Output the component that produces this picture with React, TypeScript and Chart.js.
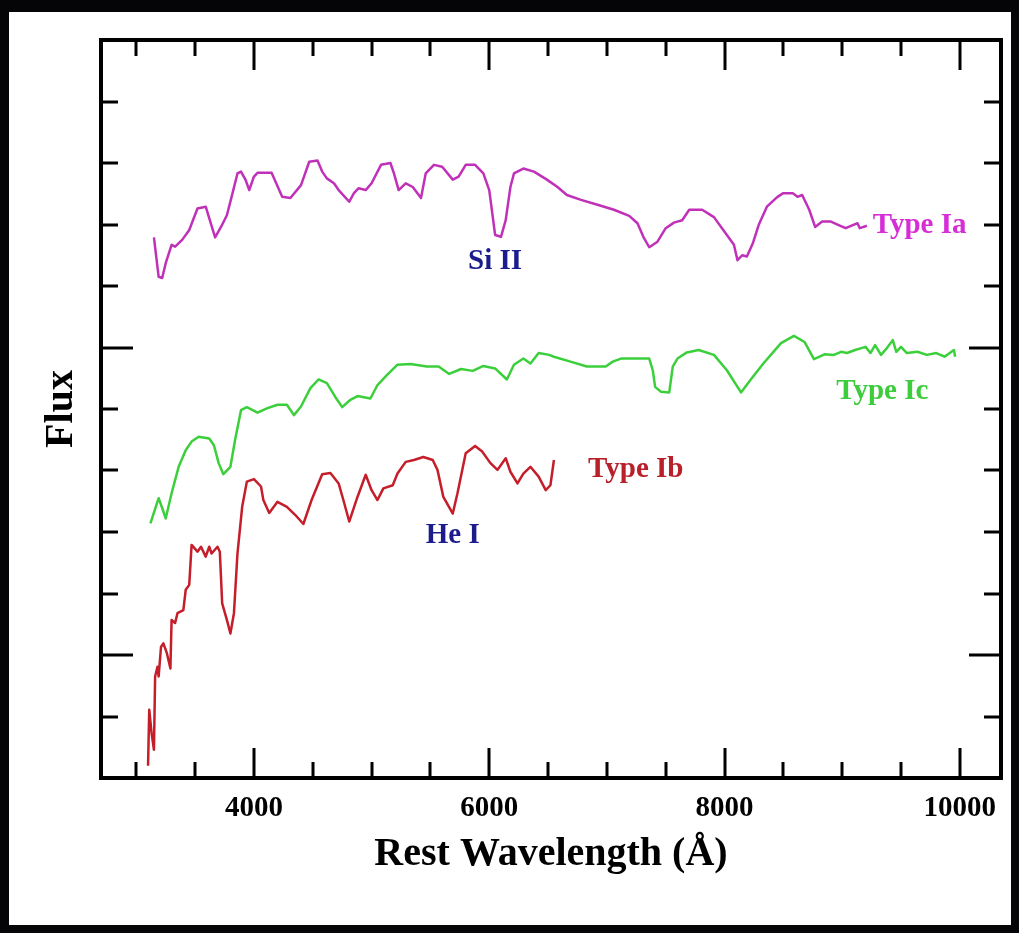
import React, { useEffect, useRef } from "react";
import { Chart, registerables } from "chart.js";

Chart.register(...registerables);

// ---------- data ----------
const xMin = 2700;
const xMax = 10350;
const yMin = -2;
const yMax = 10;
const xTickLabels = [4000, 6000, 8000, 10000];
const xMinorStep = 500;
const xMajorStep = 2000;
const yMinorStep = 1;
const yMajorStep = 5;

const iaWavelength = [3150,3190,3220,3250,3300,3330,3390,3450,3520,3590,3670,3720,3770,3810,3860,3890,3930,3960,4000,4030,4150,4240,4310,4400,4470,4540,4580,4620,4680,4720,4810,4850,4890,4950,5000,5080,5160,5190,5230,5290,5350,5420,5460,5530,5600,5690,5740,5800,5880,5950,6000,6050,6100,6140,6180,6210,6290,6380,6490,6580,6660,6780,6920,7060,7190,7260,7310,7360,7430,7500,7570,7640,7700,7810,7910,8020,8080,8110,8150,8190,8240,8290,8360,8450,8500,8580,8620,8660,8720,8770,8830,8900,8970,9030,9090,9130,9150,9210];
const iaFlux = [6.79,6.15,6.13,6.37,6.67,6.64,6.75,6.91,7.26,7.29,6.79,6.96,7.15,7.45,7.83,7.86,7.72,7.56,7.78,7.84,7.84,7.45,7.43,7.64,8.02,8.04,7.86,7.75,7.67,7.56,7.37,7.51,7.59,7.56,7.67,7.97,8.00,7.83,7.56,7.67,7.61,7.43,7.83,7.97,7.94,7.73,7.78,7.97,7.97,7.83,7.56,6.83,6.80,7.07,7.61,7.83,7.91,7.86,7.73,7.61,7.48,7.40,7.32,7.24,7.14,7.02,6.80,6.63,6.72,6.94,7.03,7.07,7.24,7.24,7.12,6.83,6.67,6.42,6.50,6.48,6.69,6.99,7.29,7.45,7.51,7.51,7.45,7.48,7.24,6.96,7.05,7.05,6.99,6.94,6.99,7.02,6.94,6.98];

const icWavelength = [3120,3190,3220,3250,3300,3360,3420,3470,3530,3620,3660,3700,3740,3800,3840,3890,3940,4030,4110,4200,4280,4340,4400,4480,4550,4620,4690,4750,4820,4880,4990,5050,5130,5220,5330,5470,5570,5660,5760,5860,5950,6050,6150,6210,6290,6350,6420,6510,6550,6690,6830,6990,7050,7120,7360,7390,7410,7460,7530,7560,7600,7680,7780,7910,8020,8140,8220,8330,8480,8590,8680,8760,8850,8930,8990,9040,9110,9200,9240,9280,9330,9380,9430,9460,9500,9550,9640,9720,9800,9870,9950,9960];
const icFlux = [2.14,2.55,2.39,2.22,2.63,3.06,3.33,3.47,3.55,3.52,3.41,3.12,2.94,3.06,3.50,3.98,4.03,3.94,4.01,4.07,4.07,3.90,4.04,4.34,4.48,4.42,4.20,4.03,4.15,4.21,4.17,4.39,4.55,4.72,4.73,4.69,4.69,4.57,4.65,4.62,4.70,4.66,4.48,4.72,4.82,4.74,4.91,4.88,4.85,4.77,4.69,4.69,4.77,4.82,4.82,4.63,4.36,4.28,4.27,4.69,4.82,4.92,4.96,4.88,4.63,4.27,4.47,4.74,5.07,5.19,5.09,4.81,4.89,4.88,4.93,4.91,4.96,5.01,4.91,5.04,4.88,4.99,5.12,4.93,5.01,4.91,4.93,4.88,4.91,4.85,4.96,4.85];

const ibWavelength = [3100,3110,3130,3150,3160,3180,3190,3210,3230,3260,3290,3300,3330,3350,3400,3420,3450,3470,3520,3550,3590,3620,3640,3690,3710,3730,3770,3800,3830,3860,3900,3940,4000,4060,4080,4130,4200,4280,4350,4420,4490,4580,4650,4720,4760,4810,4880,4950,5000,5050,5100,5180,5220,5290,5360,5440,5520,5560,5610,5690,5730,5800,5880,5940,6010,6070,6140,6180,6240,6290,6350,6420,6480,6520,6550];
const ibFlux = [-1.80,-0.89,-1.27,-1.54,-0.35,-0.19,-0.35,0.13,0.19,0.03,-0.22,0.57,0.52,0.68,0.73,1.06,1.14,1.79,1.68,1.76,1.60,1.76,1.65,1.76,1.68,0.84,0.57,0.35,0.68,1.65,2.41,2.82,2.86,2.74,2.52,2.31,2.49,2.41,2.28,2.13,2.52,2.94,2.96,2.79,2.52,2.17,2.57,2.93,2.68,2.52,2.71,2.76,2.95,3.14,3.17,3.22,3.17,3.01,2.57,2.30,2.63,3.28,3.40,3.31,3.12,3.01,3.20,2.98,2.79,2.95,3.06,2.90,2.68,2.76,3.17];

const labelTexts = ["Type Ia", "Type Ic", "Type Ib", "Si II", "He I"];
const labelWavelengths = [9260, 8950, 6840, 5820, 5460];
const labelFluxes = [6.98, 4.29, 3.01, 6.39, 1.95];
const labelColors = ["#d62ed6", "#3ccc3c", "#b8202a", "#1c1c8c", "#1c1c8c"];

const SERIF = '"Liberation Serif", "Times New Roman", serif';

const toPoints = (xs: number[], ys: number[]) => xs.map((x, i) => ({ x, y: ys[i] }));

const frameAndTicks = {
  id: "frameAndTicks",
  afterDraw(chart: any) {
    const { ctx, chartArea, scales } = chart;
    const { left, right, top, bottom } = chartArea;
    const xs = scales.x;
    const ys = scales.y;
    ctx.save();
    ctx.strokeStyle = "#000";
    ctx.lineCap = "butt";
    ctx.lineWidth = 3;
    for (let v = Math.ceil(xs.min / xMinorStep) * xMinorStep; v < xs.max; v += xMinorStep) {
      const px = Math.round(xs.getPixelForValue(v));
      const len = v % xMajorStep === 0 ? 30 : 16;
      ctx.beginPath();
      ctx.moveTo(px, bottom);
      ctx.lineTo(px, bottom - len);
      ctx.moveTo(px, top);
      ctx.lineTo(px, top + len);
      ctx.stroke();
    }
    for (let v = yMin + yMinorStep; v < yMax; v += yMinorStep) {
      const py = Math.round(ys.getPixelForValue(v));
      const len = v % yMajorStep === 0 ? 32 : 17;
      ctx.beginPath();
      ctx.moveTo(left, py);
      ctx.lineTo(left + len, py);
      ctx.moveTo(right, py);
      ctx.lineTo(right - len, py);
      ctx.stroke();
    }
    ctx.lineWidth = 4;
    ctx.strokeRect(left, top, right - left, bottom - top);
    ctx.restore();
  },
};

const textLabels = {
  id: "textLabels",
  afterDatasetsDraw(chart: any) {
    const { ctx, scales } = chart;
    ctx.save();
    ctx.font = `bold 29px ${SERIF}`;
    ctx.textAlign = "left";
    ctx.textBaseline = "middle";
    labelTexts.forEach((t, i) => {
      ctx.fillStyle = labelColors[i];
      ctx.fillText(t, scales.x.getPixelForValue(labelWavelengths[i]), scales.y.getPixelForValue(labelFluxes[i]));
    });
    ctx.restore();
  },
};

export default function App() {
  const ref = useRef<HTMLCanvasElement>(null);

  useEffect(() => {
    if (!ref.current) return;
    const lineStyle = { pointRadius: 0, borderWidth: 2.5, tension: 0, fill: false, borderJoinStyle: "round" as const };
    const chart = new Chart(ref.current, {
      type: "line",
      data: {
        datasets: [
          { label: "Type Ia", data: toPoints(iaWavelength, iaFlux), borderColor: "#c030b8", ...lineStyle },
          { label: "Type Ic", data: toPoints(icWavelength, icFlux), borderColor: "#3ccf3c", ...lineStyle },
          { label: "Type Ib", data: toPoints(ibWavelength, ibFlux), borderColor: "#c41e2a", ...lineStyle },
        ],
      },
      options: {
        animation: false,
        responsive: false,
        events: [],
        layout: { padding: { left: 0, right: 18, top: 40, bottom: 0 } },
        plugins: { legend: { display: false }, tooltip: { enabled: false } },
        scales: {
          x: {
            type: "linear",
            min: xMin,
            max: xMax,
            grid: { display: false },
            border: { display: false },
            afterBuildTicks: (s: any) => {
              s.ticks = xTickLabels.map((v) => ({ value: v }));
            },
            afterFit: (s: any) => {
              s.height = 155;
            },
            ticks: {
              color: "#000",
              padding: 5,
              maxRotation: 0,
              autoSkip: false,
              font: { family: SERIF, size: 29, weight: "bold" },
              callback: (v: any) => String(v),
            },
            title: {
              display: true,
              text: "Rest Wavelength (Å)",
              color: "#000",
              font: { family: SERIF, size: 40, weight: "bold" },
              padding: { top: 0, bottom: 54 },
            },
          },
          y: {
            type: "linear",
            min: yMin,
            max: yMax,
            grid: { display: false },
            border: { display: false },
            ticks: { display: false },
            afterFit: (s: any) => {
              s.width = 101;
            },
            title: {
              display: true,
              text: "Flux",
              color: "#000",
              font: { family: SERIF, size: 40, weight: "bold" },
              padding: { top: 38, bottom: 0 },
            },
          },
        },
      },
      plugins: [frameAndTicks, textLabels],
    } as any);
    return () => chart.destroy();
  }, []);

  return (
    <div style={{ position: "fixed", left: 0, top: 0, width: 1019, height: 933, background: "#050507", overflow: "hidden" }}>
      <div style={{ position: "absolute", left: 9, top: 12, width: 1002, height: 913, background: "#fff" }} />
      <canvas ref={ref} width={1019} height={933} style={{ position: "absolute", left: 0, top: 0, width: 1019, height: 933 }} />
    </div>
  );
}
